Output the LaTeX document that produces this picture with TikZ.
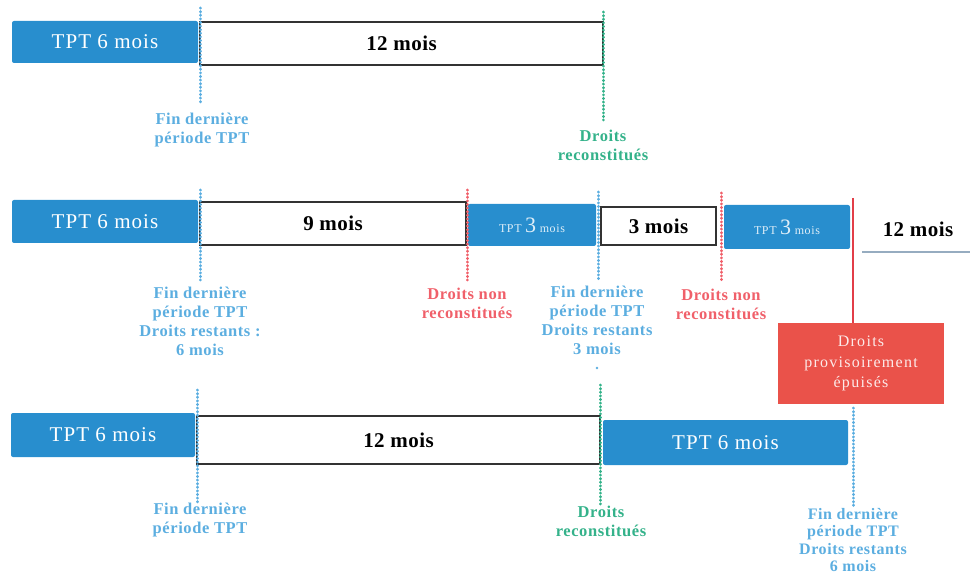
\documentclass[tikz,border=0pt]{standalone}
\usepackage{fontspec}
\setmainfont{Liberation Serif}
\definecolor{tptblue}{RGB}{40,142,206}
\definecolor{lblue}{RGB}{92,174,224}
\definecolor{lgreen}{RGB}{52,178,138}
\definecolor{lred}{RGB}{240,96,106}
\definecolor{boxred}{RGB}{234,82,74}
\definecolor{redline}{RGB}{226,62,72}
\definecolor{greyline}{RGB}{150,172,192}
\tikzset{
  bar/.style={anchor=north west,inner sep=0pt,outer sep=0pt},
  bluebox/.style={bar,fill=tptblue,rounded corners=2pt,text=white,font=\fontsize{21}{24}\selectfont\addfontfeature{LetterSpace=5}},
  whitebox/.style={bar,draw=black!80,line width=1.6pt,fill=white,font=\bfseries\fontsize{21}{24}\selectfont\addfontfeature{LetterSpace=2}},
  mark line/.style={line width=3pt,dash pattern=on 0.2pt off 3.4pt,line cap=round},
  lbl/.style={anchor=north,align=center,inner sep=0pt,font=\bfseries\fontsize{16.5}{19}\selectfont\addfontfeature{LetterSpace=3.5}},
}
\newcommand{\tptsmall}{{\fontsize{12}{13}\selectfont TPT\ }{\fontsize{22}{24}\selectfont 3}{\fontsize{12}{13}\selectfont\ mois}}
\begin{document}
\begin{tikzpicture}[x=1pt,y=-1pt]
\useasboundingbox (0,0) rectangle (970,580);
% ---------- Row 1 ----------
\node[bluebox,minimum width=186pt,minimum height=42pt] (a1) at (12,21) {TPT 6 mois};
\node[whitebox,minimum width=403pt,minimum height=43pt] (a2) at (200,22) {12 mois};
\coordinate (a1t) at (200,8);  \coordinate (a1b) at (200,104);
\coordinate (a2t) at (603,12); \coordinate (a2b) at (603,120);
\draw[mark line,lblue] (a1t) -- (a1b);
\draw[mark line,lgreen] (a2t) -- (a2b);
\node[lbl,text=lblue] (al1) at (202,113) {Fin dernière\\période TPT};
\node[lbl,text=lgreen] (al2) at (603,130) {Droits\\reconstitués};
% ---------- Row 2 ----------
\node[bluebox,minimum width=186pt,minimum height=43pt] (b1) at (12,200) {TPT 6 mois};
\node[whitebox,minimum width=266pt,minimum height=43pt] (b2) at (200,202) {9 mois};
\node[bluebox,minimum width=128pt,minimum height=42pt,text=white!85!tptblue] (b3) at (468,204) {\tptsmall};
\node[whitebox,minimum width=115pt,minimum height=38pt,line width=2.4pt] (b4) at (601,207) {3 mois};
\node[bluebox,minimum width=126pt,minimum height=44pt,text=white!85!tptblue] (b5) at (724,205) {\tptsmall};
\coordinate (b1t) at (200,190); \coordinate (b1b) at (200,280);
\coordinate (b2t) at (467,190); \coordinate (b2b) at (467,280);
\coordinate (b3t) at (598,192); \coordinate (b3b) at (598,279);
\coordinate (b4t) at (721,193); \coordinate (b4b) at (721,282);
\draw[mark line,lblue] (b1t) -- (b1b);
\draw[mark line,lred] (b2t) -- (b2b);
\draw[mark line,lblue] (b3t) -- (b3b);
\draw[mark line,lred] (b4t) -- (b4b);
\node[lbl,text=lblue] (bl1) at (200,287) {Fin dernière\\période TPT\\Droits restants :\\6 mois};
\node[lbl,text=lred] (bl2) at (467,288) {Droits non\\reconstitués};
\node[lbl,text=lblue] (bl3) at (597,286) {Fin dernière\\période TPT\\Droits restants\\3 mois};
\node[lbl,text=lred] (bl4) at (721,289) {Droits non\\reconstitués};
\fill[lblue] (597,368) circle (1.4pt);
% right part
\node[bar,fill=boxred,minimum width=166pt,minimum height=81pt,text=white!88!boxred,align=center,font=\fontsize{16}{20.5}\selectfont\addfontfeature{LetterSpace=8}] (rb) at (778,323) {Droits\\provisoirement\\épuisés};
\coordinate (rt) at (853,198);
\draw[redline,line width=2.6pt] (rt) -- (rt |- rb.north);
\node[font=\bfseries\fontsize{21}{24}\selectfont\addfontfeature{LetterSpace=2},inner sep=0pt] (m12) at (918,229) {12 mois};
\coordinate (u1) at (862,252); \coordinate (u2) at (970,252);
\draw[greyline,line width=2pt] (u1) -- (u2);
% ---------- Row 3 ----------
\node[bluebox,minimum width=184pt,minimum height=44pt] (c1) at (11,413) {TPT 6 mois};
\node[whitebox,minimum width=403pt,minimum height=48pt] (c2) at (197,416) {12 mois};
\node[bluebox,minimum width=245pt,minimum height=45pt] (c3) at (603,420) {TPT 6 mois};
\coordinate (c1t) at (197,390); \coordinate (c1b) at (197,505);
\coordinate (c2t) at (600,385); \coordinate (c2b) at (600,505);
\coordinate (c3b) at (853,506);
\draw[mark line,lblue] (c1t) -- (c1b);
\draw[mark line,lgreen] (c2t) -- (c2b);
\draw[mark line,lblue] (rb.south -| c3b) ++(0,4) -- (c3b);
\node[lbl,text=lblue] (cl1) at (200,503) {Fin dernière\\période TPT};
\node[lbl,text=lgreen] (cl2) at (601,506) {Droits\\reconstitués};
\node[lbl,text=lblue,font=\bfseries\fontsize{16}{17.5}\selectfont\addfontfeature{LetterSpace=3.5}] (cl3) at (853,508) {Fin dernière\\période TPT\\Droits restants\\6 mois};
\end{tikzpicture}
\end{document}
